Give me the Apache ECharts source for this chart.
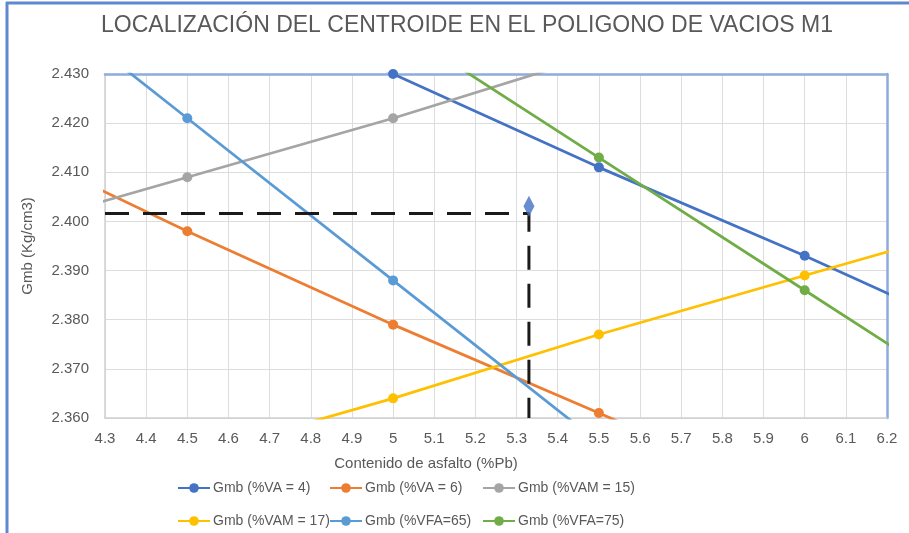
<!DOCTYPE html>
<html>
<head>
<meta charset="utf-8">
<script src="https://cdn.jsdelivr.net/npm/echarts@6/dist/echarts.min.js"></script>
<style>
  html, body { margin: 0; padding: 0; background: #fff; }
  #chart { width: 909px; height: 533px; }
</style>
</head>
<body>
<div id="chart"></div>
<script>
// Asphalt content (%Pb) where each series has a data point
const xValues = [4.0, 4.5, 5.0, 5.5, 6.0, 6.5];

// Gmb values per series (null = no point)
const gmbVA4    = [null, 2.449, 2.430, 2.411, 2.393, 2.374];
const gmbVA6    = [2.418, 2.398, 2.379, 2.361, 2.343, null];
const gmbVAM15  = [2.397, 2.409, 2.421, 2.434, null, null];
const gmbVAM17  = [null, 2.352, 2.364, 2.377, 2.389, 2.401];
const gmbVFA65  = [2.454, 2.421, 2.388, 2.355, null, null];
const gmbVFA75  = [null, null, 2.440, 2.413, 2.386, 2.359];

const seriesNames = ['Gmb (%VA = 4)', 'Gmb (%VA = 6)', 'Gmb (%VAM = 15)',
                     'Gmb (%VAM = 17)', 'Gmb (%VFA=65)', 'Gmb (%VFA=75)'];
const seriesColors = ['#4472C4', '#ED7D31', '#A5A5A5', '#FFC000', '#5B9BD5', '#70AD47'];
const seriesValues = [gmbVA4, gmbVA6, gmbVAM15, gmbVAM17, gmbVFA65, gmbVFA75];

// Centroid
const centroidX = 5.33;
const centroidY = 2.4031;
const guideY = 2.4016;

// Axis ranges
const xMin = 4.3, xMax = 6.2, xStep = 0.1;
const yMin = 2.36, yMax = 2.43, yStep = 0.01;

const chart = echarts.init(document.getElementById('chart'));
const txt = '#595959';
const font = 'Liberation Sans, Arial, sans-serif';

const lineSeries = seriesValues.map((vals, i) => ({
  name: seriesNames[i],
  type: 'line',
  data: xValues.map((x, j) => [x, vals[j]]).filter(p => p[1] !== null),
  symbol: 'circle',
  symbolSize: 10,
  clip: true,
  itemStyle: { color: seriesColors[i] },
  lineStyle: { color: seriesColors[i], width: 2.75 },
  z: 3
}));

const legendPos = [
  [172, 476], [324, 476], [477, 476],
  [172, 509], [324, 509], [477, 509]
];
const legends = seriesNames.map((n, i) => ({
  data: [n],
  left: legendPos[i][0],
  top: legendPos[i][1],
  itemWidth: 32,
  itemHeight: 12,
  itemGap: 0,
  textStyle: { color: txt, fontSize: 14, fontFamily: font, padding: [0, 0, 0, -2] },
  selectedMode: false
}));

chart.setOption({
  animation: false,
  backgroundColor: '#fff',
  textStyle: { fontFamily: font },
  title: {
    text: 'LOCALIZACIÓN DEL CENTROIDE EN EL POLIGONO DE VACIOS M1',
    left: 462, textAlign: 'center',
    top: 9,
    textStyle: { color: txt, fontSize: 23, fontWeight: 'normal', fontFamily: font }
  },
  legend: legends,
  grid: { left: 105, right: 22, top: 74, bottom: 115, containLabel: false },
  xAxis: [{
    type: 'value', min: xMin, max: xMax, interval: xStep,
    name: 'Contenido de asfalto (%Pb)',
    nameLocation: 'middle', nameGap: 38,
    nameTextStyle: { color: txt, fontSize: 15, fontFamily: font, padding: [0, 140, 0, 0] },
    axisLine: { show: true, onZero: false, lineStyle: { color: '#D0D0D0', width: 1.5 } },
    axisTick: { show: false },
    axisLabel: { color: txt, fontSize: 15, margin: 13, fontFamily: font },
    splitLine: { show: true, lineStyle: { color: '#DDDDDD', width: 1 } }
  }, {
    type: 'value', min: xMin, max: xMax, position: 'top',
    axisLine: { show: true, onZero: false, lineStyle: { color: '#8FAADC', width: 2.5 } },
    axisTick: { show: false }, axisLabel: { show: false }, splitLine: { show: false }
  }],
  yAxis: [{
    type: 'value', min: yMin, max: yMax, interval: yStep,
    name: 'Gmb (Kg/cm3)',
    nameLocation: 'middle', nameGap: 70, nameRotate: 90,
    nameTextStyle: { color: txt, fontSize: 15, fontFamily: font },
    axisLine: { show: true, onZero: false, lineStyle: { color: '#D0D0D0', width: 1.5 } },
    axisTick: { show: false },
    axisLabel: { color: txt, fontSize: 15, margin: 16, fontFamily: font,
                 formatter: v => v.toFixed(3) },
    splitLine: { show: true, lineStyle: { color: '#DDDDDD', width: 1 } }
  }, {
    type: 'value', min: yMin, max: yMax, position: 'right',
    axisLine: { show: true, onZero: false, lineStyle: { color: '#8FAADC', width: 2.5 } },
    axisTick: { show: false }, axisLabel: { show: false }, splitLine: { show: false }
  }],
  graphic: [
    { type: 'line', shape: { x1: 7, y1: 2, x2: 7, y2: 533 },
      style: { stroke: '#5F87D2', lineWidth: 3 } },
    { type: 'line', shape: { x1: 6, y1: 3, x2: 909, y2: 3 },
      style: { stroke: '#5F87D2', lineWidth: 3 } }
  ],
  series: lineSeries.concat([
    {
      name: 'guide',
      type: 'line',
      data: [[xMin, guideY], [centroidX, guideY], [centroidX, yMin]],
      symbol: 'none',
      lineStyle: { color: '#1A1A1A', width: 3, type: [24, 14] },
      z: 4
    },
    {
      name: 'centroide',
      type: 'scatter',
      data: [[centroidX, centroidY]],
      symbol: 'diamond',
      symbolSize: [11, 21],
      itemStyle: { color: '#4472C4' },
      z: 5
    }
  ])
});
</script>
</body>
</html>
